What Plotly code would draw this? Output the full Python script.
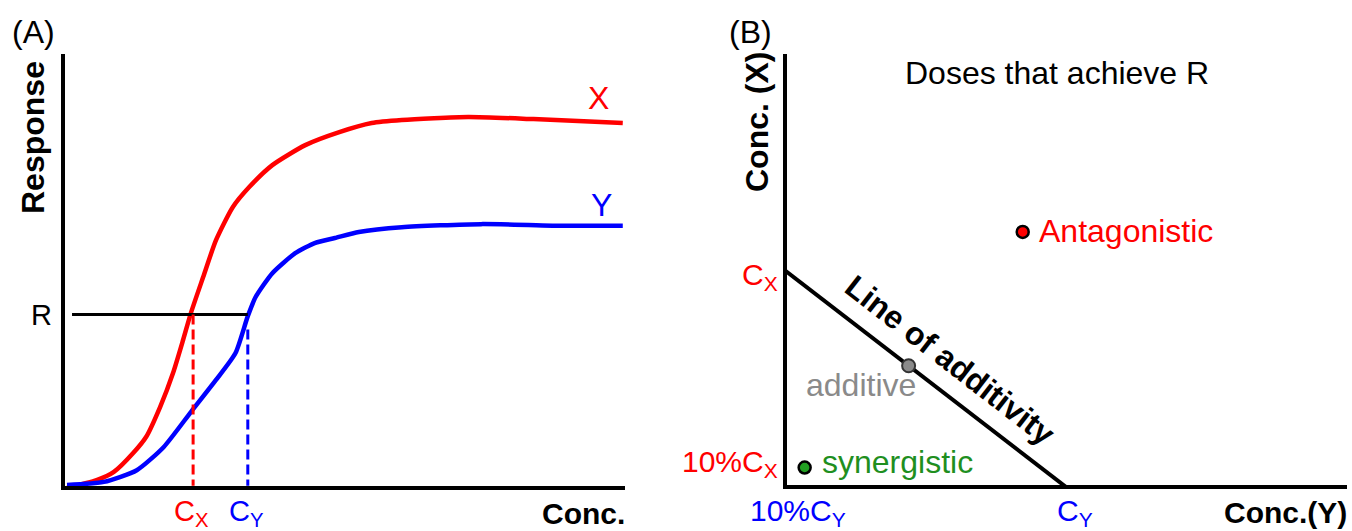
import plotly.graph_objects as go

# ---------------- data ----------------
# Panel A: dose-response curves (conc 0-10, response 0-100)
conc_x = [0, 0.53, 0.84, 1.19, 1.42, 1.67, 1.90, 2.08, 2.22, 2.44, 2.67, 2.97, 3.27, 3.68, 4.27, 4.88, 5.46, 6.00, 7.19, 8.36, 9.96]
resp_x = [0, 1.8, 3.7, 8.1, 11.8, 18.7, 26.5, 34.1, 40.3, 48.6, 57.1, 64.7, 69.4, 74.4, 79.0, 82.0, 84.1, 84.8, 85.5, 85.0, 84.1]
conc_y = [0, 0.66, 1.25, 1.73, 2.22, 2.67, 3.02, 3.24, 3.38, 3.68, 4.09, 4.45, 4.80, 5.23, 6.00, 7.42, 8.97, 9.96]
resp_y = [0.7, 1.4, 4.1, 9.4, 17.5, 24.9, 31.1, 39.6, 44.0, 49.5, 54.1, 56.5, 57.6, 59.0, 60.1, 60.8, 60.4, 60.4]
R_level = 40
R_start = 0.09
Cx = 2.26
Cy = 3.24
Cy_dash_top = 36.5

# Panel B: isobologram (conc Y on x, conc X on y)
iso_CY = 5.0
iso_CX = 5.0
additive_pt = (2.2, 2.8)
synergistic_pt = (0.35, 0.45)
antagonistic_pt = (4.23, 5.89)

RED = "#ff0000"
BLUE = "#0000ff"
GREEN = "#1f8f1f"
GREY = "#8a8a8a"
FONT = "Liberation Sans, Arial, sans-serif"
FS = 32

W, H = 1352, 531
def PX(x):
    return x / W
def PY(y):
    return 1 - y / H

fig = go.Figure()

# Panel A traces
fig.add_trace(go.Scatter(x=conc_x, y=resp_x, mode="lines", line=dict(color=RED, width=4.5, shape="spline", smoothing=0.6),
                         xaxis="x", yaxis="y", showlegend=False))
fig.add_trace(go.Scatter(x=conc_y, y=resp_y, mode="lines", line=dict(color=BLUE, width=4.5, shape="spline", smoothing=0.6),
                         xaxis="x", yaxis="y", showlegend=False))
fig.add_trace(go.Scatter(x=[R_start, Cy], y=[R_level, R_level], mode="lines", line=dict(color="black", width=3),
                         xaxis="x", yaxis="y", showlegend=False))
fig.add_trace(go.Scatter(x=[Cx, Cx], y=[R_level, 0.5], mode="lines", line=dict(color=RED, width=3, dash="10px,5px"),
                         xaxis="x", yaxis="y", showlegend=False))
fig.add_trace(go.Scatter(x=[Cy, Cy], y=[Cy_dash_top, 0.5], mode="lines", line=dict(color=BLUE, width=3, dash="10px,5px"),
                         xaxis="x", yaxis="y", showlegend=False))

# Panel B traces
fig.add_trace(go.Scatter(x=[0, iso_CY], y=[iso_CX, 0], mode="lines", line=dict(color="black", width=4),
                         xaxis="x2", yaxis="y2", showlegend=False))
fig.add_trace(go.Scatter(x=[additive_pt[0]], y=[additive_pt[1]], mode="markers",
                         marker=dict(size=13, color=GREY, line=dict(color="#333333", width=2)),
                         xaxis="x2", yaxis="y2", showlegend=False))
fig.add_trace(go.Scatter(x=[synergistic_pt[0]], y=[synergistic_pt[1]], mode="markers",
                         marker=dict(size=12, color="#22a022", line=dict(color="black", width=2.5)),
                         xaxis="x2", yaxis="y2", showlegend=False))
fig.add_trace(go.Scatter(x=[antagonistic_pt[0]], y=[antagonistic_pt[1]], mode="markers",
                         marker=dict(size=12, color=RED, line=dict(color="black", width=2.5)),
                         xaxis="x2", yaxis="y2", showlegend=False))

ax_common = dict(showgrid=False, zeroline=False, showticklabels=False, ticks="",
                 showline=True, linecolor="black", linewidth=4)

fig.update_layout(
    width=W, height=H,
    margin=dict(l=0, r=0, t=0, b=0),
    paper_bgcolor="white", plot_bgcolor="white",
    xaxis=dict(domain=[PX(65), PX(625)], range=[-0.036, 10], anchor="y", **ax_common),
    yaxis=dict(domain=[PY(486), PY(54)], range=[0.46, 100], anchor="x", **ax_common),
    xaxis2=dict(domain=[PX(787), PX(1347)], range=[0.036, 10], anchor="y2", **ax_common),
    yaxis2=dict(domain=[PY(485), PY(54)], range=[0.046, 10], anchor="x2", **ax_common),
    font=dict(family=FONT, size=FS, color="black"),
)

def ann(text, x, y, color="black", xanchor="center", yanchor="middle", angle=0, size=FS):
    fig.add_annotation(text=text, x=PX(x), y=PY(y), xref="paper", yref="paper",
                       showarrow=False, xanchor=xanchor, yanchor=yanchor, textangle=angle,
                       font=dict(family=FONT, size=size, color=color))

# Panel A text
ann("(A)", 33, 32)
ann("<b>Response</b>", 33, 138, angle=-90)
ann("X", 598, 98, color=RED)
ann("Y", 601, 205, color=BLUE)
ann("R", 54, 315, xanchor="right", size=29)
ann("C<sub>X</sub>", 191, 513, color=RED, size=29)
ann("C<sub>Y</sub>", 247, 513, color=BLUE, size=29)
ann("<b>Conc.</b>", 583, 513, size=30)

# Panel B text
ann("(B)", 750, 32)
ann("<b>Conc. (X)</b>", 757, 122, angle=-90)
ann("Doses that achieve R", 1057, 73)
ann("C<sub>X</sub>", 780, 276, color=RED, xanchor="right", size=30)
ann("10%C<sub>X</sub>", 780, 463, color=RED, xanchor="right", size=30)
ann("10%C<sub>Y</sub>", 798, 512, color=BLUE, size=30)
ann("C<sub>Y</sub>", 1075, 512, color=BLUE, size=30)
ann("<b>Conc.(Y)</b>", 1285, 512, size=30)
ann("additive", 861, 385, color=GREY)
ann("synergistic", 820, 462, color=GREEN, xanchor="left")
ann("Antagonistic", 1037, 231, color=RED, xanchor="left")
ann("<b>Line of additivity</b>", 950, 360, angle=37.7)

fig.write_html("out.html", config={"displayModeBar": False},
               post_script="document.body.style.margin='0';")
